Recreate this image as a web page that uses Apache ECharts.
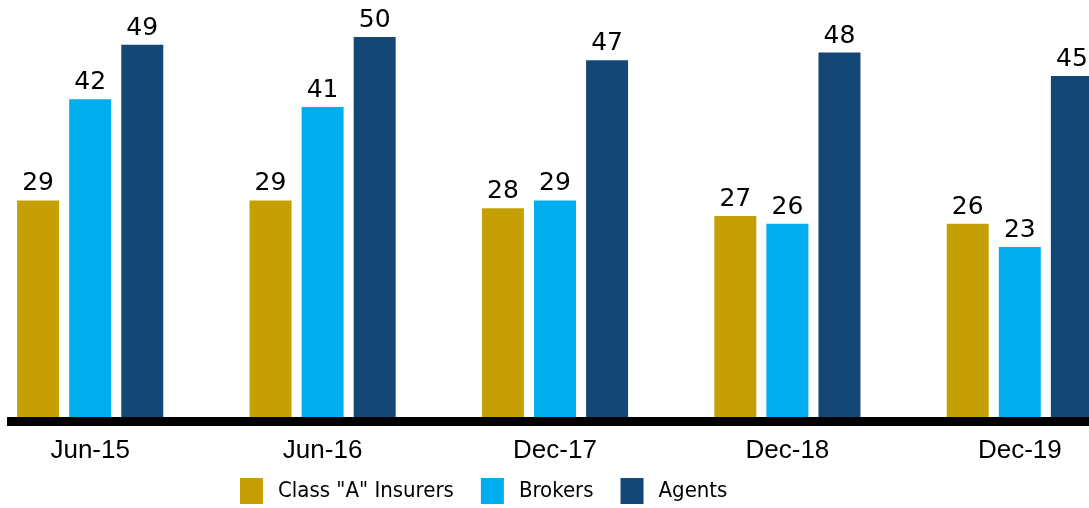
<!DOCTYPE html>
<html>
<head>
<meta charset="utf-8">
<script src="https://cdn.jsdelivr.net/npm/echarts@6/dist/echarts.min.js"></script>
<style>
  html, body { margin: 0; padding: 0; background: #fff; overflow: hidden; }
  body { width: 1089px; height: 508px; position: relative; }
  /* chart is wider than the window: first category is cut off on the left, like the source */
  #chart { width: 1162px; height: 508px; position: absolute; left: -26px; top: 0; }
</style>
</head>
<body>
<div id="chart"></div>
<script>
const categories = ['Jun-15', 'Jun-16', 'Dec-17', 'Dec-18', 'Dec-19'];
const insurers = [29, 29, 28, 27, 26];
const brokers = [42, 41, 29, 26, 23];
const agents = [49, 50, 47, 48, 45];

const chart = echarts.init(document.getElementById('chart'));

const barLabel = {
  show: true,
  position: 'top',
  distance: 4,
  color: '#000',
  fontFamily: 'DejaVu Sans',
  fontSize: 25
};

const makeBar = (name, data, color) => ({
  type: 'bar',
  name: name,
  data: data,
  barWidth: 42,
  barGap: '24%',
  itemStyle: { color: color },
  label: barLabel
});

chart.setOption({
  animation: false,
  grid: {
    left: 0,
    right: 0,
    top: 37,
    bottom: 82
  },
  legend: {
    left: 261,
    top: 473,
    itemWidth: 23,
    itemHeight: 26,
    itemGap: 27,
    icon: 'rect',
    textStyle: {
      fontFamily: 'DejaVu Sans Condensed',
      fontSize: 22,
      color: '#000',
      padding: [0, 0, 0, 10]
    }
  },
  xAxis: {
    type: 'category',
    data: categories,
    axisLine: { show: false },
    axisTick: { show: false },
    axisLabel: {
      color: '#000',
      fontFamily: 'Liberation Sans',
      fontSize: 26,
      margin: 12
    }
  },
  yAxis: {
    type: 'value',
    min: 0,
    max: 50,
    show: false,
    splitLine: { show: false }
  },
  graphic: [{
    type: 'rect',
    z: 100,
    shape: { x: 33, y: 417, width: 1129, height: 9 },
    style: { fill: '#000' }
  }],
  series: [
    makeBar('Class "A" Insurers', insurers, '#C5A005'),
    makeBar('Brokers', brokers, '#00AEEF'),
    makeBar('Agents', agents, '#134776')
  ]
});
</script>
</body>
</html>
